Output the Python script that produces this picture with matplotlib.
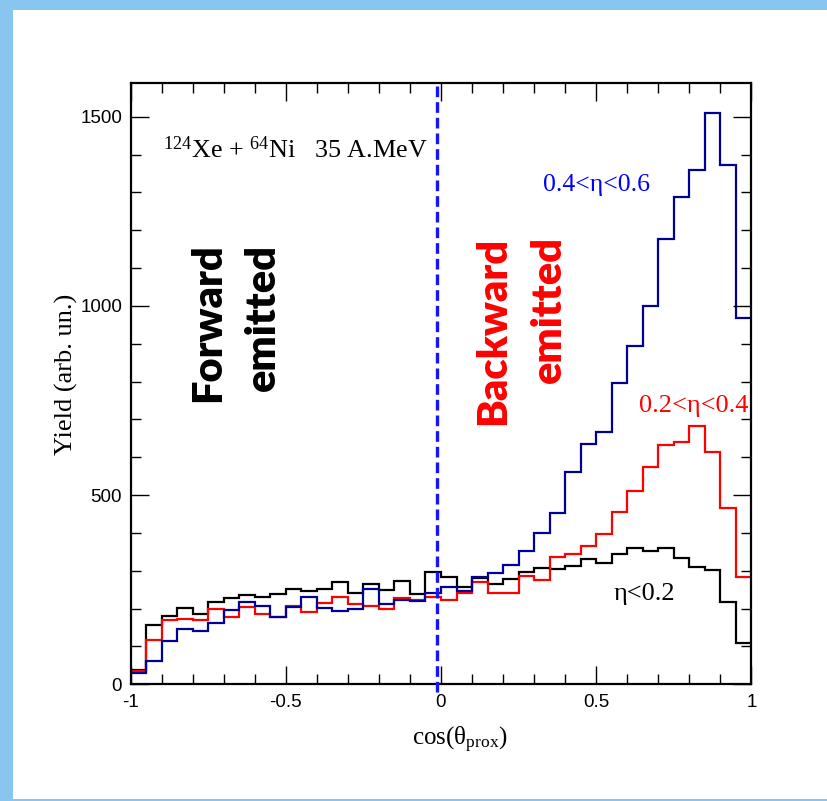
import numpy as np
import matplotlib
matplotlib.use("Agg")
import matplotlib.pyplot as plt
from matplotlib.patches import Rectangle
from matplotlib.ticker import MultipleLocator

# cos(theta_prox) binning: 40 bins from -1 to 1
bin_edges = np.linspace(-1.0, 1.0, 41)

# yields per bin (arb. units)
yield_eta_lt_02 = [38, 158, 180, 201, 186, 217, 227, 235, 232, 239,
                   251, 246, 252, 270, 242, 264, 249, 272, 239, 298,
                   283, 257, 281, 266, 277, 298, 307, 304, 313, 332,
                   320, 344, 359, 353, 359, 333, 311, 302, 218, 108]
yield_eta_02_04 = [34, 118, 169, 172, 170, 198, 179, 203, 185, 179,
                   206, 192, 216, 230, 211, 206, 199, 229, 222, 230,
                   224, 240, 271, 242, 242, 286, 276, 337, 343, 366,
                   397, 454, 511, 573, 632, 641, 683, 613, 465, 284]
yield_eta_04_06 = [30, 62, 114, 145, 142, 161, 197, 217, 208, 179,
                   205, 232, 202, 195, 198, 251, 212, 223, 219, 242,
                   257, 247, 283, 293, 315, 352, 400, 453, 560, 635,
                   667, 796, 895, 1000, 1176, 1289, 1359, 1509, 1372, 967]

series_labels = ["\u03b7<0.2", "0.2<\u03b7<0.4", "0.4<\u03b7<0.6"]
boundary_cos = -0.014

plt.rcParams["mathtext.fontset"] = "custom"
plt.rcParams["mathtext.rm"] = "Liberation Serif"
plt.rcParams["mathtext.it"] = "Liberation Serif:italic"

fig = plt.figure(figsize=(8.27, 8.01), dpi=100)
fig.patch.set_facecolor("#88c6ef")
panel = Rectangle((13 / 827, 2 / 801), 1 - 13 / 827, 1 - 12 / 801,
                  transform=fig.transFigure, facecolor="white",
                  edgecolor="none", zorder=-5)
fig.add_artist(panel)

ax = fig.add_axes([0.1578, 0.1457, 0.7509, 0.7507])
ax.set_facecolor("white")

ax.stairs(yield_eta_lt_02, bin_edges, color="black", lw=1.6, baseline=None)
ax.stairs(yield_eta_02_04, bin_edges, color="#ff0000", lw=1.6, baseline=None)
ax.stairs(yield_eta_04_06, bin_edges, color="#000099", lw=1.6, baseline=None)

ax.axvline(boundary_cos, ymin=-0.012, ymax=0.995, color="#1414ff", lw=2.4,
           dashes=(3.2, 1.5), clip_on=False, zorder=5)

ax.set_xlim(-1, 1)
ax.set_ylim(0, 1589)

ax.xaxis.set_major_locator(MultipleLocator(0.5))
ax.xaxis.set_minor_locator(MultipleLocator(0.1))
ax.yaxis.set_major_locator(MultipleLocator(500))
ax.yaxis.set_minor_locator(MultipleLocator(100))
ax.tick_params(which="both", direction="in", top=True, right=True, width=1.0)
ax.tick_params(which="major", length=13)
ax.tick_params(which="minor", length=7)
ax.tick_params(axis="x", pad=7)
ax.tick_params(axis="y", pad=6)
for s in ax.spines.values():
    s.set_linewidth(1.6)

ax.set_xticks([-1, -0.5, 0, 0.5, 1])
ax.set_xticklabels(["-1", "-0.5", "0", "0.5", "1"])
for lab in ax.get_xticklabels() + ax.get_yticklabels():
    lab.set_fontfamily("Liberation Sans")
    lab.set_fontsize(13.5)

ax.set_xlabel("cos(\u03b8$_{\\rm prox}$)", fontfamily="Liberation Serif", fontsize=18)
ax.xaxis.set_label_coords(0.53, -0.068)
ax.set_ylabel("Yield (arb. un.)", fontfamily="Liberation Serif", fontsize=19)
ax.yaxis.set_label_coords(-0.085, 0.516)

ax.text(-0.895, 1412, r"$^{124}$Xe + $^{64}$Ni   35 A.MeV",
        fontfamily="Liberation Serif", fontsize=18.8, va="center", ha="left")

ax.text(0.502, 1320, series_labels[2], color="#0000ff",
        fontfamily="Liberation Serif", fontsize=18.5, ha="center", va="center")
ax.text(0.815, 735, series_labels[1], color="#ff0000",
        fontfamily="Liberation Serif", fontsize=19, ha="center", va="center")
ax.text(0.654, 239, series_labels[0], color="black",
        fontfamily="Liberation Serif", fontsize=19, ha="center", va="center")

ax.text(-0.662, 955, "Forward\nemitted", rotation=90, color="black",
        fontfamily="Lato", fontweight="heavy", fontsize=30,
        ha="center", va="center", multialignment="right", linespacing=1.55)
ax.text(0.258, 935, "Backward\nemitted", rotation=90, color="#ff0000",
        fontfamily="Lato", fontweight="heavy", fontsize=30,
        ha="center", va="center", multialignment="right", linespacing=1.55)

fig.savefig("out.png", dpi=100, facecolor=fig.get_facecolor())
